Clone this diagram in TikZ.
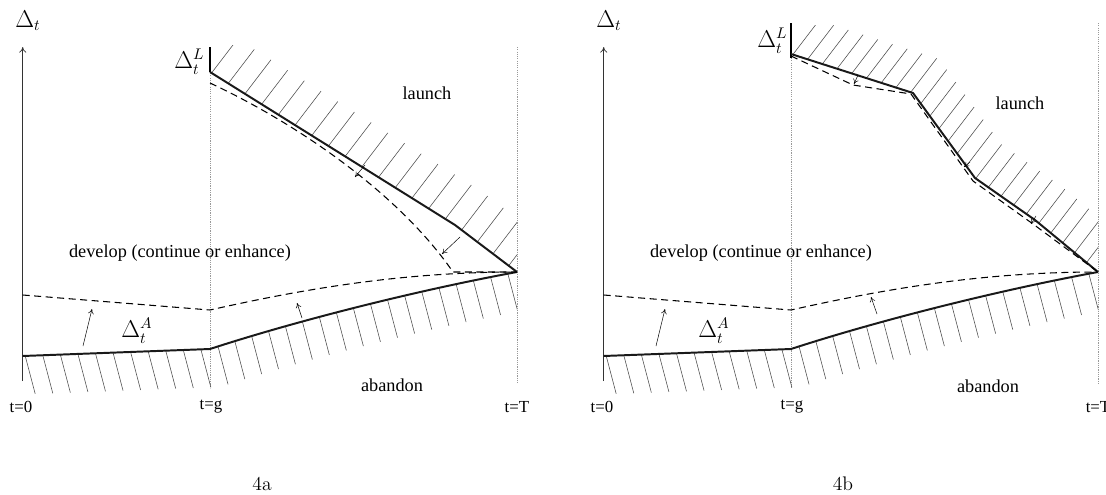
\documentclass[tikz,border=0pt]{standalone}
\usepackage{fontspec}
\newfontfamily\tnr{Liberation Serif}
\usetikzlibrary{calc,arrows.meta,decorations.markings}

\tikzset{
  bound/.style={line width=1.4pt, black!90},
  guess/.style={line width=0.75pt, dash pattern=on 5pt off 3.2pt},
  tline/.style={gray!80, line width=0.35pt, dash pattern=on 0.8pt off 0.8pt},
  yaxis/.style={-{To[length=4pt,width=5pt]}, line width=0.5pt, black!80},
  hline/.style={line width=0.4pt, black!70},
  nudge/.style={-{To[length=3.5pt,width=4pt]}, line width=0.35pt},
  word/.style={font=\tnr\fontsize{13}{15}\selectfont},
  tlabel/.style={font=\tnr\fontsize{12}{14}\selectfont},
  sym/.style={font=\fontsize{16}{18}\selectfont, inner sep=0pt},
  hatch up/.style={postaction={decorate}, decoration={markings,
      mark=between positions 0.005 and 1 step #1 with {\pgftransformresetnontranslations
        \draw[hline] (0,0) -- (26,-34);}}},
  hatch down/.style={postaction={decorate}, decoration={markings,
      mark=between positions 0.005 and 1 step #1 with {\pgftransformresetnontranslations
        \draw[hline] (0,0) -- (10,38);}}}
}

\begin{document}
\begin{tikzpicture}[x=0.025cm, y=-0.025cm]
  \useasboundingbox (0,0) rectangle (1106,494);
  % parts that both panels share
  \foreach \p/\dx/\gtop/\Ttop in {a/0/73/47,b/581/58/23}{
    \begin{scope}[shift={(\dx,0)}]
      % time marks
      \draw[tline] (210,\gtop) -- (210,388);
      \draw[tline] (517,\Ttop) -- (517,384);
      \coordinate (\p-bot) at (22.7,381);
      \coordinate (\p-top) at (22.7,47);
      \draw[yaxis] (\p-bot) -- (\p-top);
      \node[sym, anchor=base west] (\p-delta) at (15,27) {$\Delta_t$};
      % abandon boundary with hatching below
      \coordinate (\p-A0) at (22.7,356);
      \coordinate (\p-Ag) at (210,349);
      \coordinate (\p-T) at (517,272);
      \begin{scope}
        \clip (0,0) rectangle (517,420);
        \path[hatch down=12.5pt] (\p-A0) -- (\p-Ag)
          .. controls (299,320) and (419,290) .. (\p-T);
      \end{scope}
      \draw[bound] (\p-A0) -- (\p-Ag) .. controls (299,320) and (419,290) .. (\p-T);
      % revised abandon boundary
      \draw[guess] (22.7,295) -- (210,310) .. controls (299,290) and (399,272) .. (\p-T);
      \node[word] (\p-dev) at (180,253) {develop (continue or enhance)};
      \node[tlabel] (\p-t0) at (21,407) {t=0};
      \node[tlabel] (\p-tg) at (211,407) {t=g};
      \node[tlabel] (\p-tT) at (517,407) {t=T};
    \end{scope}
  }

  % 4a: launch boundary
  \coordinate (a-L0) at (210,72);
  \coordinate (a-L1) at (455,225);
  \draw[line width=2pt] (210,47) -- (a-L0);
  \begin{scope}
    \clip (200,45) rectangle (517,300);
    \path[hatch up=14pt] (a-L0) -- (a-L1) -- (a-T);
  \end{scope}
  \draw[bound] (a-L0) -- (a-L1) -- (a-T);
  \draw[guess] (210,83) .. controls (300,125) and (400,195) .. (453,272) -- (a-T);
  % 4a: shifts of the boundaries
  \draw[nudge] (365,165) -- (355,177);
  \draw[nudge] (460,237) -- (442,254);
  \draw[nudge] (83,346) -- (92,309);
  \draw[nudge] (302,318) -- (297,303);
  \node[sym, anchor=base west] (a-dL) at (174,68) {$\Delta_t^L$};
  \node[sym, anchor=base west] (a-dA) at (121,337) {$\Delta_t^A$};
  \node[word] (a-launch) at (427,93) {launch};
  \node[word] (a-aband) at (392,385) {abandon};
  \node (a-cap) at (262,484) {\fontsize{14}{16}\selectfont 4a};

  % 4b: launch boundary
  \coordinate (b-L0) at (791,54);
  \coordinate (b-L1) at (913,93);
  \coordinate (b-L2) at (975,178);
  \coordinate (b-L3) at (1035,220);
  \draw[line width=2pt] (791,23) -- (791,58);
  \begin{scope}
    \clip (780,25) rectangle (1098,300);
    \path[hatch up=11pt] (b-L0) -- (b-L1) -- (b-L2) -- (b-L3) -- (b-T);
  \end{scope}
  \draw[bound] (b-L0) -- (b-L1) -- (b-L2) -- (b-L3) -- (b-T);
  \draw[guess] (791,56) -- (853,85) -- (911,94) -- (973,181) -- (1033,224) -- (b-T);
  % 4b: shifts of the boundaries
  \draw[nudge] (858,75) -- (854,84);
  \draw[nudge] (970,162) -- (964,167);
  \draw[nudge] (1036,216) -- (1031,224);
  \draw[nudge] (656,346) -- (665,309);
  \draw[nudge] (877,314) -- (871,297);
  \node[sym, anchor=base west] (b-dL) at (757,47) {$\Delta_t^L$};
  \node[sym, anchor=base west] (b-dA) at (698,337) {$\Delta_t^A$};
  \node[word] (b-launch) at (1020,103) {launch};
  \node[word] (b-aband) at (988,386) {abandon};
  \node (b-cap) at (843,484) {\fontsize{14}{16}\selectfont 4b};
\end{tikzpicture}
\end{document}
